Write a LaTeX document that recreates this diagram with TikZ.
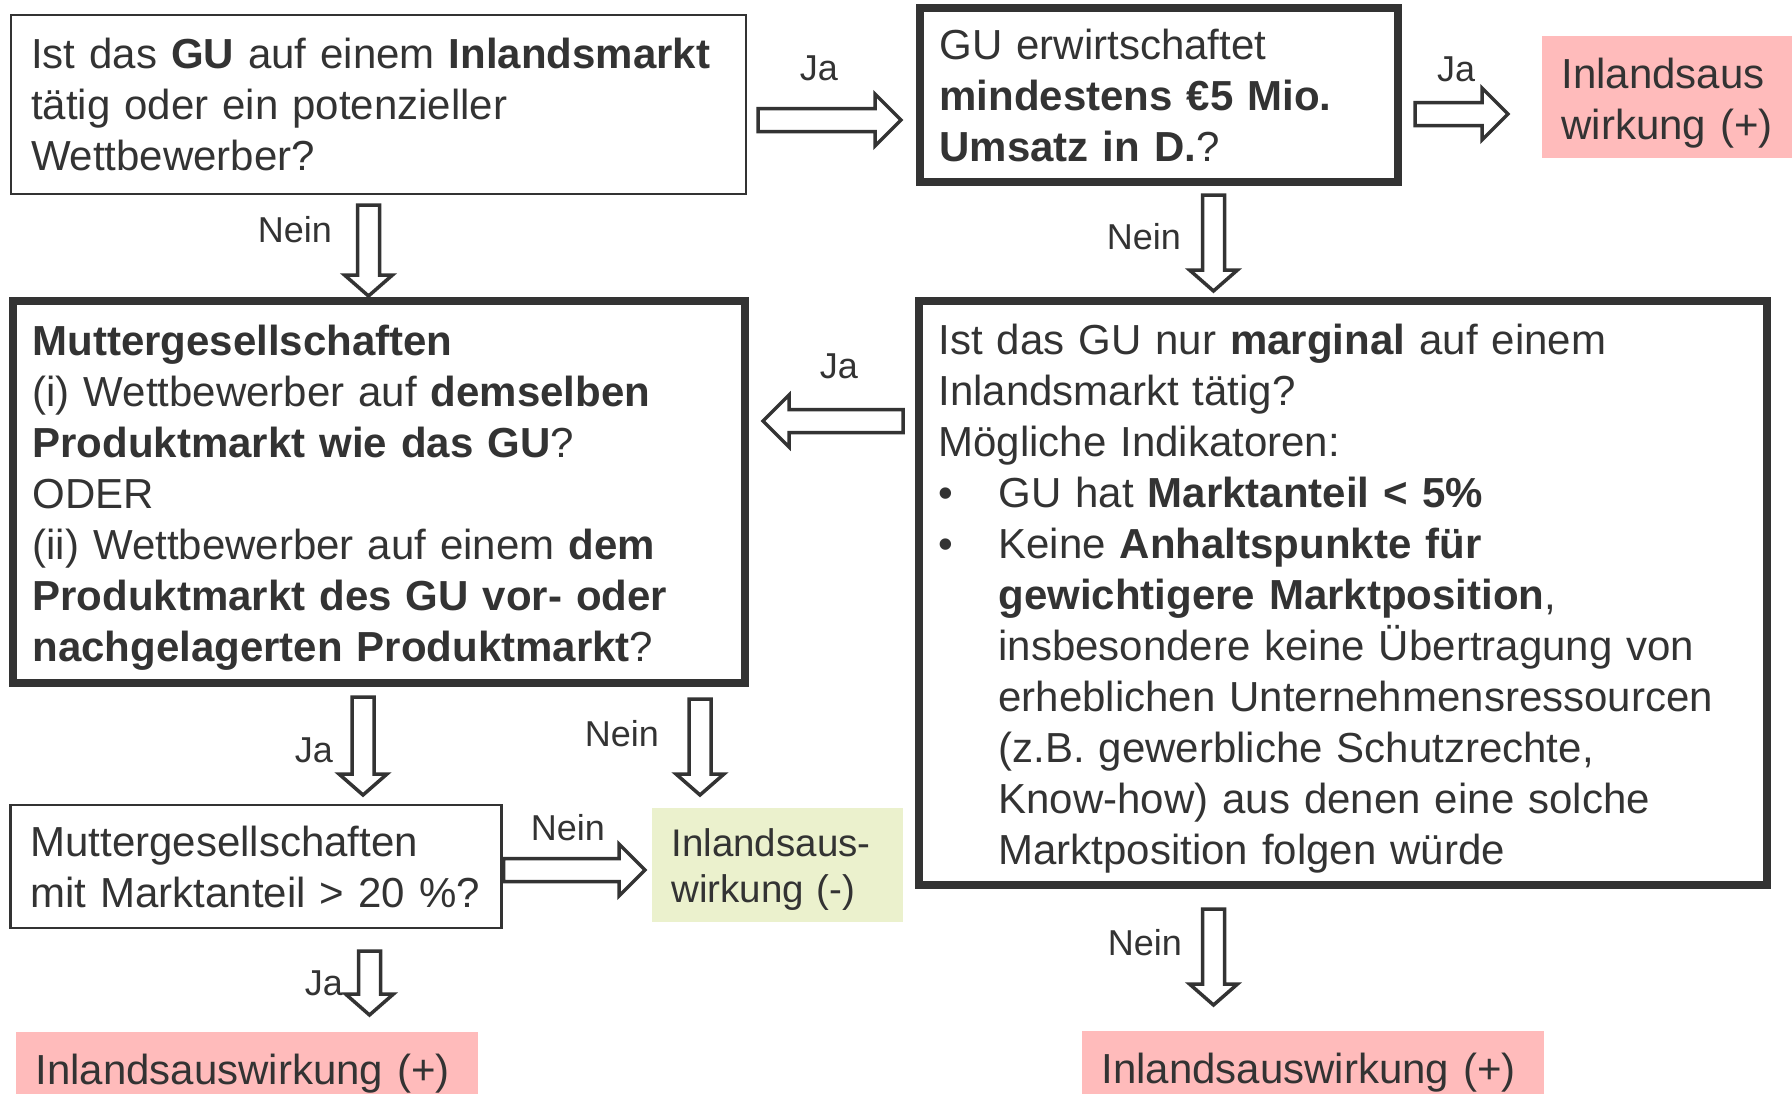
\documentclass[tikz,border=0pt]{standalone}
\usepackage{fontspec}
\setmainfont{Liberation Sans}
\usepackage{tikz}
\usetikzlibrary{positioning, calc}
\definecolor{linegray}{HTML}{333333}
\definecolor{pinkfill}{HTML}{FFBBBB}
\definecolor{greenfill}{HTML}{EBF1CD}
\tikzset{question node/.style={rectangle, draw=linegray, line width=2.5pt, outer sep=0pt, inner xsep=20pt, inner ysep=0pt, align=left, text=linegray, font=\fontsize{42}{51}\selectfont},}
\tikzset{strong node/.style={question node, line width=8pt},}
\tikzset{result node/.style={question node, draw=none, fill=pinkfill},}
\tikzset{answer/.style={inner sep=0pt, text=linegray, font=\fontsize{36}{43}\selectfont},}
\tikzset{
	head len/.store in=\fathl, head len=26pt,
	shaft half/.store in=\fatsw, shaft half=11.5pt,
	head half/.store in=\fathw, head half=26pt,
	fat/.style={draw=linegray, line width=3.5pt, fill=white, to path={
		($(\tikztostart)!\fatsw!90:(\tikztotarget)$)
		-- ($(\tikztotarget)!\fathl!(\tikztostart)!\fatsw!-90:(\tikztostart)$)
		-- ($(\tikztotarget)!\fathl!(\tikztostart)!\fathw!-90:(\tikztostart)$)
		-- (\tikztotarget)
		-- ($(\tikztotarget)!\fathl!(\tikztostart)!\fathw!90:(\tikztostart)$)
		-- ($(\tikztotarget)!\fathl!(\tikztostart)!\fatsw!90:(\tikztostart)$)
		-- ($(\tikztostart)!\fatsw!-90:(\tikztotarget)$)
		-- cycle}},
	down fat/.style={fat, head len=21pt, shaft half=11pt, head half=24pt},
}

\begin{document}
\begin{tikzpicture}[x=1pt, y=-1pt]
	\useasboundingbox (0,0) rectangle (1792,1093);
	% Questions
	\node[question node, minimum width=735pt, minimum height=179pt, text width=695pt] (gu) at (378.5,104.5)
		{Ist das \textbf{GU} auf einem \textbf{Inlandsmarkt}\\ tätig oder ein potenzieller\\ Wettbewerber?};
	\node[strong node, minimum width=478pt, minimum height=174pt, text width=438pt] [right = 173.5pt of gu, yshift=9.5pt] (umsatz)
		{GU erwirtschaftet\\ \textbf{mindestens €5 Mio.}\\ \textbf{Umsatz in D.}?};
	\node[strong node, minimum width=732pt, minimum height=382pt, text width=692pt] [below = 107pt of gu] (mutter)
		{\rule{0pt}{41pt}\textbf{Muttergesellschaften}\\ (i) Wettbewerber auf \textbf{demselben}\\ \textbf{Produktmarkt wie das GU}?\\ ODER\\
		(ii) Wettbewerber auf einem \textbf{dem}\\ \textbf{Produktmarkt des GU vor- oder}\\ \textbf{nachgelagerten Produktmarkt}?};
	\node[strong node, minimum width=848pt, minimum height=584pt, text width=808pt] [right = 174pt of mutter.north east, anchor=north west] (marginal)
		{\rule{0pt}{41pt}Ist das GU nur \textbf{marginal} auf einem\\ Inlandsmarkt tätig?\\ Mögliche Indikatoren:\\
		\makebox[60pt][l]{\textbullet}GU hat \textbf{Marktanteil < 5\%}\\
		\makebox[60pt][l]{\textbullet}Keine \textbf{Anhaltspunkte für}\\
		\hspace*{60pt}\textbf{gewichtigere Marktposition},\\
		\hspace*{60pt}insbesondere keine Übertragung von\\
		\hspace*{60pt}erheblichen Unternehmensressourcen\\
		\hspace*{60pt}(z.B. gewerbliche Schutzrechte,\\
		\hspace*{60pt}Know-how) aus denen eine solche\\
		\hspace*{60pt}Marktposition folgen würde};
	\node[question node, minimum width=491pt, minimum height=123pt, text width=451pt] [below = 122pt of mutter.south west, anchor=north west, xshift=-2pt] (anteil)
		{Muttergesellschaften\\ mit Marktanteil > 20 \%?};

	% Outcomes
	\node[result node, minimum width=252pt, minimum height=122pt, text width=212pt] [right = 144pt of umsatz, yshift=-2pt] (plus1)
		{\rule{0pt}{43pt}Inlandsaus\\ wirkung (+)};
	\node[result node, fill=greenfill, font=\fontsize{38.5}{46}\selectfont, minimum width=251pt, minimum height=114pt, text width=211pt] [right = 150pt of anteil, yshift=1.5pt] (minus)
		{\rule{0pt}{37pt}Inlandsaus-\\ wirkung (-)};
	\node[result node, minimum width=462pt, minimum height=84pt, text width=422pt] [below = 104pt of anteil.south west, anchor=north west, xshift=5pt] (plus2)
		{Inlandsauswirkung (+)};
	\node[result node, minimum width=462pt, minimum height=84pt, text width=422pt] [below = 146pt of marginal, xshift=-30pt] (plus3)
		{Inlandsauswirkung (+)};

	% Arrow ends
	\coordinate (ja1a) at ($(gu.east)+(12,15.5)$);
	\coordinate (ja1b) at ($(umsatz.west)+(-18.5,25)$);
	\coordinate (ja2a) at ($(umsatz.east)+(17.5,19)$);
	\coordinate (ja2b) at ($(plus1.west)+(-33.5,17)$);
	\coordinate (nein1a) at ($(gu.south)+(-10,11)$);
	\coordinate (nein1b) at ($(mutter.north)+(-10,-5)$);
	\coordinate (nein2a) at ($(umsatz.south)+(55,13)$);
	\coordinate (nein2b) at ($(marginal.north)+(-129,-10)$);
	\coordinate (ja3a) at ($(marginal.west)+(-15.5,-172)$);
	\coordinate (ja3b) at ($(mutter.east)+(18.5,-71)$);
	\coordinate (ja4a) at ($(mutter.south)+(-15.5,14)$);
	\coordinate (ja4b) at ($(anteil.north)+(107,-10)$);
	\coordinate (nein3a) at ($(mutter.south)+(321.5,16)$);
	\coordinate (nein3b) at ($(minus.north)+(-77,-13)$);
	\coordinate (nein4a) at ($(anteil.east)+(2,3.5)$);
	\coordinate (nein4b) at ($(minus.west)+(-6.5,5)$);
	\coordinate (ja5a) at ($(anteil.south)+(113.5,23)$);
	\coordinate (ja5b) at ($(plus2.north)+(123,-17)$);
	\coordinate (nein5a) at ($(marginal.south)+(-129,24)$);
	\coordinate (nein5b) at ($(plus3.north)+(-99,-26)$);

	% Arrows
	\draw[fat] (ja1a) to (ja1b);
	\draw[fat] (ja2a) to (ja2b);
	\draw[fat] (ja3a) to (ja3b);
	\draw[fat] (nein4a) to (nein4b);
	\draw[down fat] (nein1a) to (nein1b);
	\draw[down fat] (nein2a) to (nein2b);
	\draw[down fat] (ja4a) to (ja4b);
	\draw[down fat] (nein3a) to (nein3b);
	\draw[down fat] (ja5a) to (ja5b);
	\draw[down fat] (nein5a) to (nein5b);

	% Labels
	\node[answer] (ja1) at (819,68) {Ja};
	\node[answer] (ja2) at (1456,69) {Ja};
	\node[answer] (nein1) at (295,230) {Nein};
	\node[answer] (nein2) at (1144,237) {Nein};
	\node[answer] (ja3) at (839,366) {Ja};
	\node[answer] (ja4) at (314,750) {Ja};
	\node[answer] (nein3) at (622,734) {Nein};
	\node[answer] (nein4) at (568,828) {Nein};
	\node[answer] (ja5) at (324,983) {Ja};
	\node[answer] (nein5) at (1145,943) {Nein};
\end{tikzpicture}
\end{document}
